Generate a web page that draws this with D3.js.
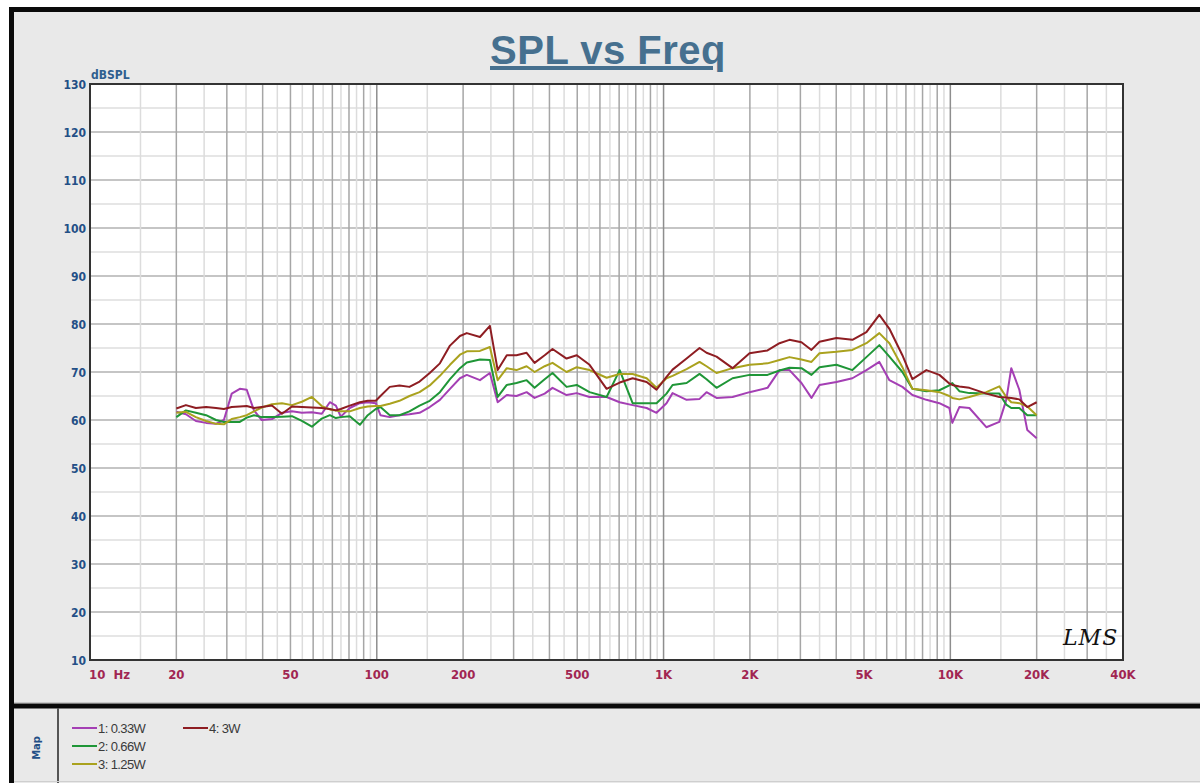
<!DOCTYPE html>
<html>
<head>
<meta charset="utf-8">
<script src="https://cdn.jsdelivr.net/npm/d3@7"></script>
<style>
  body { margin: 0; background: #fff; }
  svg { display: block; }
</style>
</head>
<body>
<div id="chart"></div>
<script>
// frequencies (Hz) shared by all four traces
const freqs = [20,21.6,23.4,25.4,27.5,29.3,31.2,33.3,35.2,37.3,39.7,43.1,46.7,50.6,54.8,59.4,64.3,68.6,72,74.9,
  80.5,87.3,93,99.2,103,111,120,130,141,153,166,180,195,206,229,248,264,284,307,333,
  355,385,410,459,498,552,633,703,780,873,945,1024,1075,1203,1335,1412,1530,1740,1994,2304,
  2537,2748,3026,3279,3497,4007,4555,5097,5655,6131,6804,7373,8249,9157,9920,10160,10750,11650,13350,14820,
  15670,16310,17400,18550,20000];

const spl_033W = [61.7,61.2,59.8,59.4,59.2,60.0,65.5,66.5,66.3,62.0,
  60.0,60.2,61.5,61.8,61.5,61.6,61.3,63.7,63.0,60.7,
  62.5,63.5,63.7,63.5,61.0,60.6,61.0,61.2,61.5,62.7,
  64.2,66.5,68.7,69.4,68.3,69.8,63.7,65.2,65.0,65.8,
  64.6,65.5,66.7,65.2,65.6,64.8,64.8,63.7,63.1,62.5,
  61.5,63.5,65.6,64.2,64.4,65.8,64.6,64.8,65.8,66.7,
  70.4,70.4,67.7,64.6,67.3,67.9,68.7,70.4,72.1,68.3,
  66.9,65.2,64.2,63.5,62.5,59.4,62.7,62.5,58.5,59.6,
  64.2,70.8,66.3,57.9,56.2];

const spl_066W = [60.6,62.0,61.5,61.0,60.0,59.6,59.6,59.6,60.5,61.0,
  60.6,60.6,60.7,60.8,59.8,58.6,60.3,61.0,60.4,60.6,
  60.8,59.0,61.0,62.3,62.7,61.0,61.0,61.8,63.0,64.0,
  65.8,68.5,70.8,72.0,72.6,72.5,64.8,67.3,67.7,68.3,
  66.7,68.5,69.8,66.9,67.3,65.8,64.8,70.4,63.5,63.5,
  63.5,65.5,67.3,67.7,69.6,68.5,66.7,68.7,69.4,69.4,
  70.3,70.9,70.8,69.4,71.0,71.5,70.4,73.1,75.6,73.2,
  70.0,66.5,66.0,66.2,67.2,67.7,66.0,65.6,65.5,65.5,
  63.2,62.5,62.5,61.0,61.0];

const spl_125W = [61.5,61.7,60.6,59.8,59.2,59.1,60.2,60.6,61.0,61.8,
  62.6,63.3,63.5,63.1,63.8,64.8,62.9,62.2,62.0,61.8,
  61.8,62.5,62.8,62.9,62.9,63.4,64.0,65.0,65.8,67.2,
  69.2,71.5,73.6,74.3,74.4,75.2,68.3,70.8,70.4,71.2,
  70.0,71.2,71.9,70.0,71.0,70.4,68.8,69.6,69.6,68.7,
  66.7,68.7,69.2,70.6,72.1,71.2,69.8,70.8,71.5,71.8,
  72.5,73.1,72.6,72.1,73.9,74.2,74.6,76.0,78.1,76.0,
  71.0,66.5,66.2,65.8,65.0,64.6,64.3,64.8,65.8,67.0,
  64.8,63.7,63.5,62.8,61.0];

const spl_3W = [62.4,63.1,62.5,62.7,62.5,62.3,62.7,62.8,62.9,62.5,
  62.7,63.0,61.3,62.8,62.7,62.6,62.5,62.3,62.0,62.3,
  63.0,63.7,64.0,64.0,65.0,66.9,67.2,66.9,68.0,69.8,
  71.8,75.5,77.5,78.1,77.3,79.6,70.4,73.5,73.5,74.0,
  71.9,73.5,74.8,72.8,73.5,71.5,66.5,67.8,68.7,67.9,
  66.3,69.0,70.5,72.8,75.0,74.0,73.2,70.8,73.9,74.5,
  76.0,76.7,76.2,74.6,76.3,77.1,76.7,78.3,81.9,79.0,
  73.5,68.5,70.4,69.4,67.6,67.3,67.0,66.7,65.5,64.8,
  64.7,64.6,64.3,62.7,63.7];

const seriesNames = ["1: 0.33W", "2: 0.66W", "3: 1.25W", "4: 3W"];
const seriesColors = ["#a43fb4", "#1f9637", "#aaa21e", "#8e1d22"];
const seriesValues = [spl_033W, spl_066W, spl_125W, spl_3W];

const xTickVals = [10,20,50,100,200,500,1000,2000,5000,10000,20000,40000];
const xTickLabels = ["10  Hz","20","50","100","200","500","1K","2K","5K","10K","20K","40K"];
const yTickVals = [10,20,30,40,50,60,70,80,90,100,110,120,130];

const W = 1200, H = 783;
const plot = {left: 90, right: 1123, top: 84, bottom: 660};

const svg = d3.select("#chart").append("svg")
    .attr("width", W).attr("height", H);

// outer panel
svg.append("rect").attr("x", 11).attr("y", 10).attr("width", W).attr("height", H)
    .attr("fill", "#e9e9e9");
svg.append("path")
    .attr("d", `M11.5,${H} V9.5 H${W}`)
    .attr("fill", "none").attr("stroke", "#0a0a0a").attr("stroke-width", 5);
// separator between chart and map panel
svg.append("line").attr("x1", 9).attr("x2", W).attr("y1", 706).attr("y2", 706)
    .attr("stroke", "#0a0a0a").attr("stroke-width", 5);
svg.append("line").attr("x1", 14).attr("x2", W).attr("y1", 702.5).attr("y2", 702.5)
    .attr("stroke", "#c8c8c8").attr("stroke-width", 1);
svg.append("line").attr("x1", 58).attr("x2", 58).attr("y1", 708).attr("y2", H)
    .attr("stroke", "#555").attr("stroke-width", 2);
svg.append("line").attr("x1", 14).attr("x2", W).attr("y1", 781.5).attr("y2", 781.5)
    .attr("stroke", "#cfcfcf").attr("stroke-width", 1);

const x = d3.scaleLog().domain([10, 40000]).range([plot.left, plot.right]);
const y = d3.scaleLinear().domain([10, 130]).range([plot.bottom, plot.top]);

// plot background
svg.append("rect")
    .attr("x", plot.left).attr("y", plot.top)
    .attr("width", plot.right - plot.left).attr("height", plot.bottom - plot.top)
    .attr("fill", "#fff");

const grid = svg.append("g");

// horizontal grid every 5 dB
d3.range(10, 131, 5).forEach(v => {
    grid.append("line")
        .attr("x1", plot.left).attr("x2", plot.right)
        .attr("y1", y(v)).attr("y2", y(v))
        .attr("stroke", v % 10 === 0 ? "#b2b2b2" : "#dedede")
        .attr("stroke-width", 1.5);
});

// vertical grid: half steps light, whole steps darker
[10, 100, 1000, 10000].forEach(dec => {
    d3.range(1, 10, 0.5).forEach(m => {
        const f = dec * m;
        if (f <= 10 || f >= 40000) return;
        const whole = Number.isInteger(m);
        grid.append("line")
            .attr("x1", x(f)).attr("x2", x(f))
            .attr("y1", plot.top).attr("y2", plot.bottom)
            .attr("stroke", m === 1 ? "#8e8e8e" : whole ? "#a6a6a6" : "#dcdcdc")
            .attr("stroke-width", 1.5);
    });
});

// traces
const line = d3.line()
    .x((d, i) => x(freqs[i]))
    .y(d => y(d));

seriesValues.forEach((vals, k) => {
    svg.append("path")
        .datum(vals)
        .attr("d", line)
        .attr("fill", "none")
        .attr("stroke", seriesColors[k])
        .attr("stroke-width", 2)
        .attr("stroke-linejoin", "round");
});

// plot frame
svg.append("rect")
    .attr("x", plot.left).attr("y", plot.top)
    .attr("width", plot.right - plot.left).attr("height", plot.bottom - plot.top)
    .attr("fill", "none").attr("stroke", "#333").attr("stroke-width", 2);

// y tick labels
const tickFont = "'DejaVu Sans Condensed', 'Liberation Sans Narrow', Arial, sans-serif";
svg.append("g").selectAll("text")
    .data(yTickVals).enter().append("text")
    .attr("x", plot.left - 4)
    .attr("y", d => y(d) + 4.5)
    .attr("text-anchor", "end")
    .attr("font-family", tickFont)
    .attr("font-weight", "bold")
    .attr("font-size", 12)
    .attr("fill", "#234f86")
    .text(d => d);

svg.append("text")
    .attr("x", plot.left + 1).attr("y", 79)
    .attr("font-family", tickFont).attr("font-weight", "bold")
    .attr("font-size", 12).attr("fill", "#2f5f8f")
    .text("dBSPL");

// x tick labels
svg.append("g").selectAll("text")
    .data(xTickVals).enter().append("text")
    .attr("x", (d, i) => i === 0 ? x(d) - 1 : x(d))
    .attr("y", 679)
    .attr("text-anchor", (d, i) => i === 0 ? "start" : "middle")
    .attr("font-family", tickFont)
    .attr("font-weight", "bold")
    .attr("font-size", 13)
    .attr("fill", "#a12652")
    .style("white-space", "pre")
    .text((d, i) => xTickLabels[i]);

// title
svg.append("text")
    .attr("x", 608).attr("y", 64)
    .attr("text-anchor", "middle")
    .attr("font-family", "'Liberation Sans', Arial, sans-serif")
    .attr("font-weight", "bold")
    .attr("font-size", 40)
    .attr("letter-spacing", 0.5)
    .attr("fill", "#46708f")
    .attr("text-decoration", "underline")
    .text("SPL vs Freq");

// LMS mark
svg.append("text")
    .attr("x", 1063).attr("y", 645)
    .attr("font-family", "'DejaVu Serif', serif")
    .attr("font-style", "italic")
    .attr("font-size", 22)
    .attr("fill", "#111")
    .attr("letter-spacing", 1)
    .text("LMS");

// map panel
svg.append("text")
    .attr("transform", "translate(40,748) rotate(-90)")
    .attr("text-anchor", "middle")
    .attr("font-family", tickFont).attr("font-weight", "bold")
    .attr("font-size", 11).attr("fill", "#234f86")
    .text("Map");

const legendPos = [[72, 728], [72, 746], [72, 764], [183, 728]];
seriesNames.forEach((name, k) => {
    const [lx, ly] = legendPos[k];
    svg.append("line")
        .attr("x1", lx).attr("x2", lx + 25)
        .attr("y1", ly).attr("y2", ly)
        .attr("stroke", seriesColors[k]).attr("stroke-width", 2);
    svg.append("text")
        .attr("x", lx + 26).attr("y", ly + 4.5)
        .attr("font-family", "'Liberation Sans', Arial, sans-serif")
        .attr("font-size", 13).attr("fill", "#3a3a3a")
        .attr("letter-spacing", -0.6)
        .text(name);
});
</script>
</body>
</html>
